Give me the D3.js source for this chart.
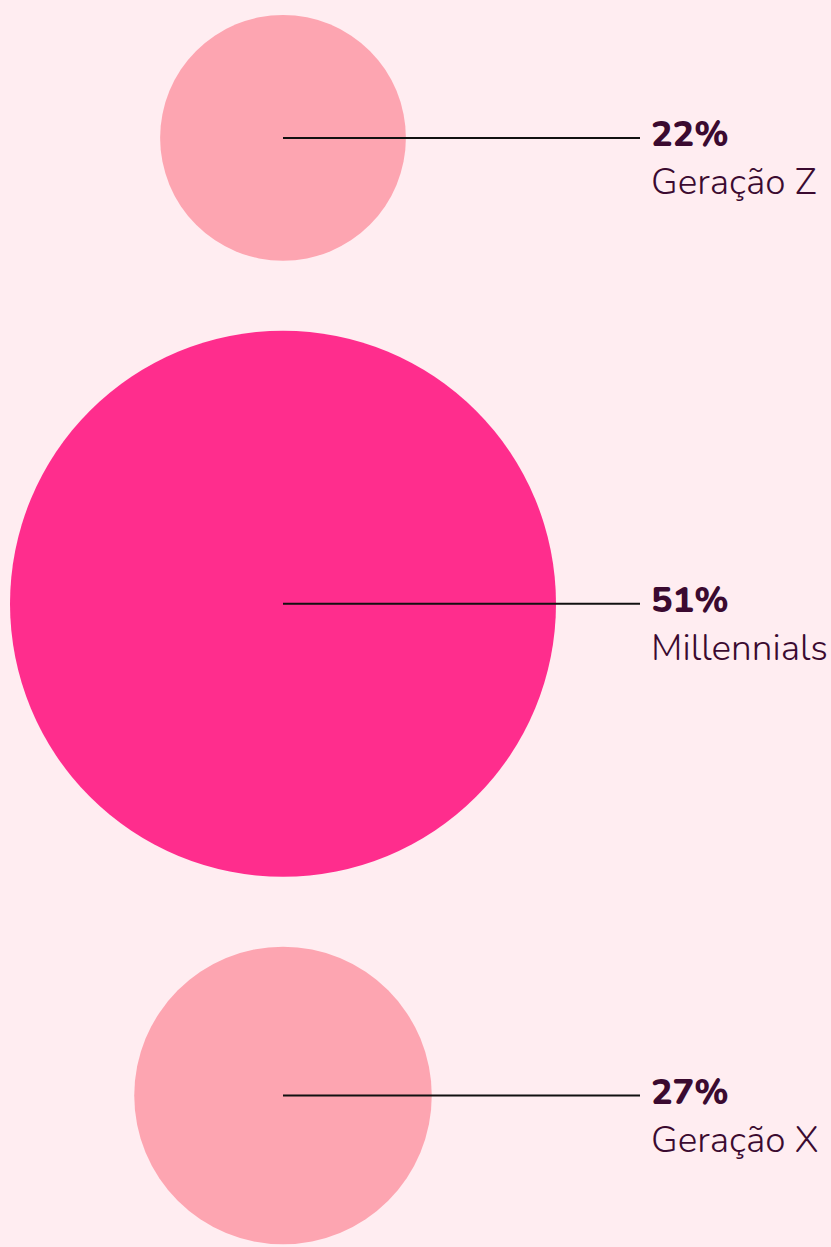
<!DOCTYPE html>
<html>
<meta charset="utf-8">
<script src="https://d3js.org/d3.v7.min.js"></script>
<style>
  body { margin: 0; background: #ffedf1; }
</style>
<body>
<div id="chart"></div>
<script>

  // dados
  var generations = ["Geração Z", "Millennials", "Geração X"];
  var shares = [22, 51, 27];
  var shareLabels = ["22%", "51%", "27%"];

  var width = 831,
      height = 1247,
      cx = 283,
      gap = 70,
      lineEnd = 640;

  var svg = d3.select("#chart")
    .append("svg")
      .attr("width", width)
      .attr("height", height);

  svg.append("rect")
    .attr("width", width)
    .attr("height", height)
    .attr("fill", "#ffedf1");

  var r = d3.scaleLinear()
    .domain([0, 51])
    .range([9, 273]);

  var color = d3.scaleOrdinal()
    .domain(generations)
    .range(["#fda5b1", "#ff2d8d", "#fda5b1"]);

  // empilha os círculos um abaixo do outro
  var data = [];
  var y = 15;
  generations.forEach(function(g, i) {
    var rad = r(shares[i]);
    data.push({ name: g, value: shares[i], label: shareLabels[i], r: rad, cy: y + rad });
    y += 2 * rad + gap;
  });

  var g = svg.selectAll(".gen")
    .data(data)
    .enter()
    .append("g")
      .attr("class", "gen");

  g.append("circle")
    .attr("cx", cx)
    .attr("cy", function(d) { return d.cy; })
    .attr("r", function(d) { return d.r; })
    .attr("fill", function(d) { return color(d.name); });

  g.append("line")
    .attr("x1", cx)
    .attr("x2", lineEnd)
    .attr("y1", function(d) { return d.cy; })
    .attr("y2", function(d) { return d.cy; })
    .attr("stroke", "#111")
    .attr("stroke-width", 2);

  g.append("text")
    .attr("x", 651)
    .attr("y", function(d) { return d.cy + 8; })
    .style("font-family", "Nunito, Lato, sans-serif")
    .style("font-weight", 800)
    .style("font-size", "36px")
    .attr("fill", "#3b0a30")
    .text(function(d) { return d.label; });

  g.append("text")
    .attr("x", 651)
    .attr("y", function(d) { return d.cy + 56; })
    .style("font-family", "Nunito, Lato, sans-serif")
    .style("font-weight", 300)
    .style("font-size", "37px")
    .attr("fill", "#3b0a30")
    .text(function(d) { return d.name; });

</script>
</body>
</html>
